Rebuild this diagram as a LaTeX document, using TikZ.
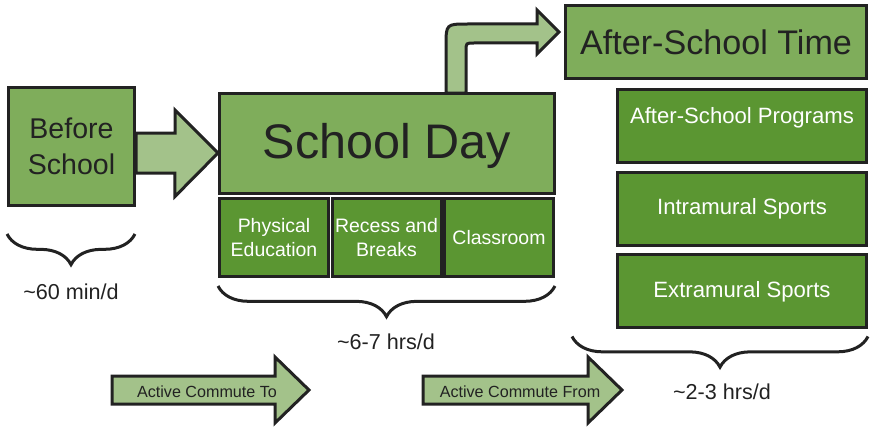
\documentclass[tikz,border=0pt]{standalone}
\usepackage{fontspec}
\setmainfont{Liberation Sans}
\usetikzlibrary{calc,decorations.pathreplacing}

\definecolor{midgreen}{RGB}{127,173,91}
\definecolor{darkgreen}{RGB}{91,150,50}
\definecolor{lightgreen}{RGB}{163,194,138}
\definecolor{ink}{RGB}{34,34,34}

\tikzset{
  mainbox/.style={draw=ink, line width=2.25pt, fill=midgreen, text=ink, align=center, inner sep=0pt},
  subbox/.style={draw=ink, line width=2.25pt, fill=darkgreen, text=white, align=center, inner sep=0pt},
  fatarrow/.style={draw=ink, line width=2.25pt, fill=lightgreen, line join=miter},
  timebrace/.style={draw=ink, line width=2.25pt, decorate, decoration={brace, mirror, amplitude=23pt}},
  timelabel/.style={text=ink, font=\fontsize{16.2}{19}\selectfont},
  commutelabel/.style={text=ink, font=\fontsize{12.1}{14}\selectfont},
}

\begin{document}
\begin{tikzpicture}[x=0.75pt, y=-0.75pt]
  \useasboundingbox (0,0) rectangle (870,428);

  % school day and its parts
  \node[mainbox, minimum width=94.5pt, minimum height=88.5pt, font=\fontsize{21.4}{27}\selectfont] (before) at (71.5,146.5) {Before\\School};
  \node[mainbox, minimum width=250.9pt, minimum height=75pt, text height=26.5pt, text depth=3.2pt, font=\fontsize{36.4}{40}\selectfont] (school) at (386.75,143) {School Day};
  \node[subbox, minimum width=81.75pt, minimum height=58.5pt, font=\fontsize{14.6}{18}\selectfont] (pe) at (274,237.5) {Physical\\Education};
  \node[subbox, minimum width=81.75pt, minimum height=58.5pt, font=\fontsize{14.6}{18}\selectfont] (recess) at (386.5,237.5) {Recess and\\Breaks};
  \node[subbox, minimum width=81.75pt, minimum height=58.5pt, font=\fontsize{14.6}{18}\selectfont] (class) at (499,237.5) {Classroom};

  % after school
  \node[mainbox, minimum width=225.75pt, minimum height=54.75pt, font=\fontsize{25.6}{30}\selectfont] (after) at (716,42) {After-School Time};
  \node[subbox, minimum width=186.75pt, minimum height=54.75pt, text height=12pt, text depth=15.5pt, font=\fontsize{16.6}{20}\selectfont] (programs) at (742,125.5) {After-School Programs};
  \node[subbox, minimum width=186.75pt, minimum height=54.75pt, font=\fontsize{16.6}{20}\selectfont] (intra) at (742,208.5) {Intramural Sports};
  \node[subbox, minimum width=186.75pt, minimum height=54.75pt, text height=12pt, text depth=2pt, font=\fontsize{16.6}{20}\selectfont] (extra) at (742,290.5) {Extramural Sports};

  % block arrows
  \draw[fatarrow] ($(before.east)+(0,-13.5)$) -- ++(39,0) -- ++(0,-23) -- ($(school.west)+(0,10)$)
    -- ++(-43,43.5) -- ++(0,-23.5) -- ($(before.east)+(0,26.5)$) -- cycle;
  \draw[fatarrow] (446,93) -- (446,46) .. controls (446,24) .. (468,24) -- (537,24) -- (537,10) -- (559,32)
    -- (537,54) -- (537,43) -- (474,43) .. controls (466,43) .. (466,51) -- (466,93) -- cycle;

  % time spans
  \draw[timebrace] ($(before.south west)+(0,27)$) -- ($(before.south east)+(-1,27)$);
  \draw[timebrace] ($(pe.south west)+(0,8)$) -- ($(class.south east)+(0,8)$);
  \draw[timebrace] ($(extra.south west)+(-44,8)$) -- ($(extra.south east)+(0,8)$);
  \node[timelabel] (beforetime) at (71,292) {\textasciitilde60 min/d};
  \node[timelabel] (schooltime) at (386,342) {\textasciitilde6-7 hrs/d};
  \node[timelabel] (aftertime) at (722,392) {\textasciitilde2-3 hrs/d};

  % commute
  \draw[fatarrow] (112,376) -- (275,376) -- (275,357) -- (309,390) -- (275,423) -- (275,404) -- (112,404) -- cycle;
  \draw[fatarrow] (423,376) -- (588,376) -- (588,357) -- (622,390) -- (588,423) -- (588,404) -- (423,404) -- cycle;
  \node[commutelabel] (commuteto) at (207,392) {Active Commute To};
  \node[commutelabel] (commutefrom) at (520,392) {Active Commute From};
\end{tikzpicture}
\end{document}
